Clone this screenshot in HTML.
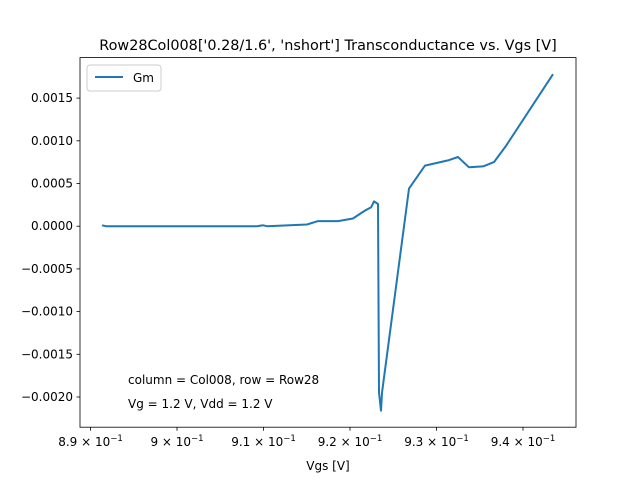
<!DOCTYPE html>
<html><head><meta charset="utf-8"><style>
body{margin:0;background:#fff;font-family:"Liberation Sans","DejaVu Sans",sans-serif;}
svg text{font-family:"DejaVu Sans","Liberation Sans",sans-serif;}
</style></head><body>
<svg id="chart" width="640" height="480" xmlns="http://www.w3.org/2000/svg">
<rect width="640" height="480" fill="#fff"/>
<text x="328" y="50" font-size="14.4" text-anchor="middle">Row28Col008['0.28/1.6', 'nshort'] Transconductance vs. Vgs [V]</text>
<g id="plot"></g>
<rect x="80" y="57.6" width="496" height="369.6" fill="none" stroke="#000" stroke-width="0.8"/>
<g>
<rect x="87" y="65" width="74" height="26" rx="3" fill="#fff" stroke="#ccc"/>
<line x1="95" y1="77" x2="123" y2="77" stroke="#1f77b4" stroke-width="2"/>
<text x="133" y="82" font-size="12">Gm</text>
</g>
<text x="128" y="384" font-size="12">column = Col008, row = Row28</text>
<text x="128" y="408" font-size="12">Vg = 1.2 V, Vdd = 1.2 V</text>
<text x="328" y="470" font-size="12" text-anchor="middle">Vgs [V]</text>
</svg>
<script>
const xValues=[0.89133,0.89179,0.89225,0.90925,0.90994,0.91040,0.91503,0.9163,0.91861,0.92035,0.92139,0.92185,0.92243,0.92277,0.92324,0.92335,0.92358,0.9237,0.92682,0.92867,0.93133,0.93249,0.93376,0.93538,0.93665,0.93803,0.94347];
const gmValues=[0.00001,0.0,0.0,0.0,0.00001,0.0,0.00002,0.00006,0.00006,0.00009,0.00016,0.00019,0.00022,0.00029,0.00026,-0.00195,-0.00216,-0.00195,0.00044,0.00071,0.00077,0.00081,0.00069,0.0007,0.00075,0.00094,0.00178];
const yTicks=[-0.002,-0.0015,-0.001,-0.0005,0,0.0005,0.001,0.0015];
const yTickLabels=["\u22120.0020","\u22120.0015","\u22120.0010","\u22120.0005","0.0000","0.0005","0.0010","0.0015"];
const xTicks=[0.89,0.90,0.91,0.92,0.93,0.94];
const xTickMant=["8.9","9","9.1","9.2","9.3","9.4"];
const NS='http://www.w3.org/2000/svg';
function sx(v){return 177+(v-0.9)*8650;}
function sy(v){return 226.2-v/0.0005*42.7;}
const g=document.getElementById('plot');
function mk(t,a){const e=document.createElementNS(NS,t);for(const k in a)e.setAttribute(k,a[k]);return e;}
yTicks.forEach((v,i)=>{
 const y=sy(v);
 const tk=mk('line',{x1:76.5,x2:80,y1:y,y2:y,stroke:'#000','stroke-width':0.8});
 
 
 g.appendChild(tk);
 const t=mk('text',{x:73,y:y+4,'font-size':12,'text-anchor':'end'});
 
 
 t.textContent=yTickLabels[i];g.appendChild(t);
});
xTicks.forEach((v,i)=>{
 const x=sx(v);
 const tk=mk('line',{x1:x,x2:x,y1:427.2,y2:430.7,stroke:'#000','stroke-width':0.8});
 
 
 g.appendChild(tk);
 const t=mk('text',{x:x,y:446,'font-size':12,'text-anchor':'middle'});
 
 
 t.innerHTML=xTickMant[i]+' \u00d7 10<tspan dy="-5" font-size="8.5">\u22121</tspan>';
 g.appendChild(t);
});
const pts=xValues.map((x,i)=>sx(x).toFixed(1)+','+sy(gmValues[i]).toFixed(1)).join(' ');
const line=mk('polyline',{points:pts,fill:'none',stroke:'#1f77b4','stroke-width':2,'stroke-linejoin':'round'});


g.appendChild(line);
</script>
</body></html>
